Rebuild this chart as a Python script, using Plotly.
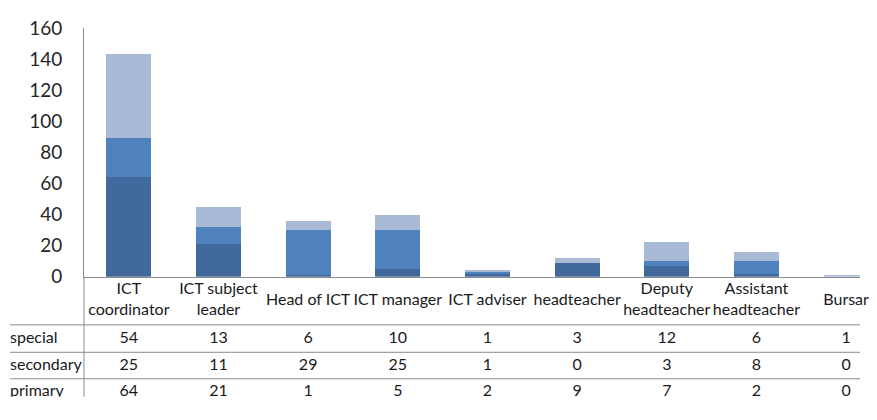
import plotly.graph_objects as go

# ---- data ----
categories = ["ICT coordinator", "ICT subject leader", "Head of ICT", "ICT manager",
              "ICT adviser", "headteacher", "Deputy headteacher", "Assistant headteacher", "Bursar"]
header_labels = ["ICT<br>coordinator", "ICT subject<br>leader", "Head of ICT", "ICT manager",
                 "ICT adviser", "headteacher", "Deputy<br>headteacher", "Assistant<br>headteacher", "Bursar"]
special = [54, 13, 6, 10, 1, 3, 12, 6, 1]
secondary = [25, 11, 29, 25, 1, 0, 3, 8, 0]
primary = [64, 21, 1, 5, 2, 9, 7, 2, 0]
y_ticks = [0, 20, 40, 60, 80, 100, 120, 140, 160]

# ---- layout geometry (pixels) ----
W, H = 877, 420
PX_LEFT, PX_RIGHT = 84, 860      # plot area left/right
PX_TOP, PX_ZERO = 17, 280         # y=160 and y=0
STEP = 89.66                      # pixel width of one category
CLIP_BOTTOM = 407
FONT = "Lato"
TXT = "#1a1a1a"
GRID = "#8c8c8c"
TSIZE = 16

def py(p):  # pixel y -> paper
    return (H - p) / H

def px(p):
    return p / W

x_hi = (PX_RIGHT - PX_LEFT) / STEP - 0.5
# table axis: linear, aligned with categories
a = -PX_LEFT / STEP - 0.5
b = (W - PX_LEFT) / STEP - 0.5

fig = go.Figure()
colors = {"primary": "#41699B", "secondary": "#4F81BD", "special": "#A9BAD7"}
for name, vals in [("primary", primary), ("secondary", secondary), ("special", special)]:
    fig.add_trace(go.Bar(x=categories, y=vals, name=name, width=0.5,
                         marker=dict(color=colors[name], line=dict(width=0)),
                         xaxis="x", yaxis="y"))

idx = list(range(len(categories)))
row_y = {"header": 305.5, "special": 345.5, "secondary": 374, "primary": 402.5}
# header
fig.add_trace(go.Scatter(x=idx, y=[row_y["header"]] * len(idx), text=header_labels, mode="text",
                         textposition="middle center", textfont=dict(family=FONT, size=TSIZE, color=TXT),
                         xaxis="x2", yaxis="y2", cliponaxis=True, hoverinfo="skip"))
for name, vals in [("special", special), ("secondary", secondary), ("primary", primary)]:
    fig.add_trace(go.Scatter(x=idx, y=[row_y[name]] * len(idx), text=[str(v) for v in vals], mode="text",
                             textposition="middle center", textfont=dict(family=FONT, size=TSIZE, color=TXT),
                             xaxis="x2", yaxis="y2", cliponaxis=True, hoverinfo="skip"))
    fig.add_trace(go.Scatter(x=[a + 10 / STEP], y=[row_y[name]], text=[name], mode="text",
                             textposition="middle right", textfont=dict(family=FONT, size=TSIZE, color=TXT),
                             xaxis="x2", yaxis="y2", cliponaxis=True, hoverinfo="skip"))

shapes = []
for p in [331, 360, 388]:
    shapes.append(dict(type="line", xref="paper", yref="paper", x0=px(10), x1=px(PX_RIGHT),
                       y0=py(p), y1=py(p), line=dict(color=GRID, width=1)))
shapes.append(dict(type="line", xref="paper", yref="paper", x0=px(PX_LEFT), x1=px(PX_LEFT),
                   y0=py(PX_ZERO), y1=py(CLIP_BOTTOM), line=dict(color=GRID, width=1)))

fig.update_layout(
    width=W, height=H, margin=dict(l=0, r=0, t=0, b=0),
    paper_bgcolor="white", plot_bgcolor="white", showlegend=False, barmode="stack",
    font=dict(family=FONT, color=TXT),
    shapes=shapes,
    xaxis=dict(domain=[px(PX_LEFT), px(PX_RIGHT)], range=[-0.5, x_hi], showticklabels=False,
               showline=True, linecolor=GRID, linewidth=1, ticks="", showgrid=False, zeroline=False,
               fixedrange=True, anchor="y"),
    yaxis=dict(domain=[py(PX_ZERO), py(PX_TOP)], range=[0, 160], tickvals=y_ticks,
               showline=True, linecolor=GRID, linewidth=1, ticks="", showgrid=False, zeroline=False,
               tickfont=dict(family=FONT, size=19, color="#262626"), ticklabelstandoff=17,
               anchor="x"),
    xaxis2=dict(domain=[0, 1], range=[a, b], visible=False, anchor="y2"),
    yaxis2=dict(domain=[py(CLIP_BOTTOM), py(PX_ZERO)], range=[CLIP_BOTTOM, PX_ZERO], visible=False,
                anchor="x2"),
)

fig.write_html("out.html")
